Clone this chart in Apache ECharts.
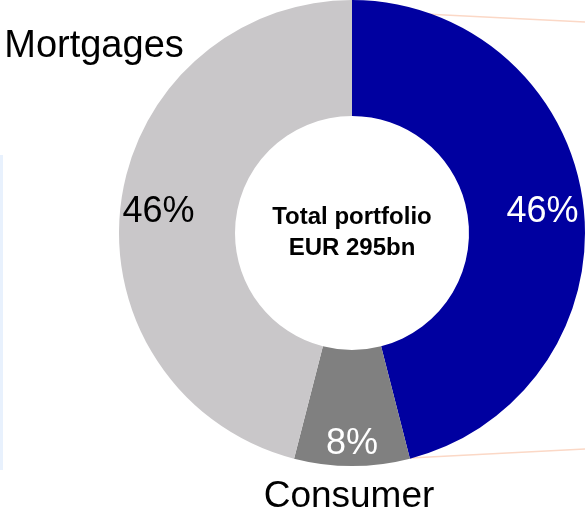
<!DOCTYPE html>
<html>
<head>
    <meta charset="UTF-8">
    <title>Portfolio</title>
    <style>
        html, body { margin: 0; padding: 0; background: #fff; }
        #chart { width: 585px; height: 515px; }
    </style>
    <script src="https://cdn.jsdelivr.net/npm/echarts@6/dist/echarts.min.js"></script>
</head>
<body>
    <div id="chart"></div>
    <script type="text/javascript">
        // data
        var categories = ['Other', 'Consumer', 'Mortgages'];
        var shares = [46, 8, 46];
        var colors = ['#0000a0', '#808080', '#c9c7c9'];
        var labelColors = ['#ffffff', '#ffffff', '#000000'];
        var centerLines = ['Total portfolio', 'EUR 295bn'];

        var font = '"Liberation Sans", Arial, sans-serif';

        // nudge of the percentage labels (pixels)
        var labelShift = [[14, 1], [0, 33], [-17, 1]];

        var myChart = echarts.init(document.getElementById('chart'));

        var pieData = categories.map(function (c, i) {
            return {
                name: c,
                value: shares[i],
                itemStyle: { color: colors[i] },
                label: { color: labelColors[i] }
            };
        });

        var option = {
            animation: false,
            backgroundColor: '#ffffff',
            graphic: [
                // faint blue strip on the left
                {
                    type: 'line',
                    shape: { x1: 1.5, y1: 155, x2: 1.5, y2: 470 },
                    style: { stroke: '#e8f1fd', lineWidth: 3 }
                },
                // connector lines to the right
                {
                    type: 'line',
                    shape: { x1: 425, y1: 14, x2: 585, y2: 22 },
                    style: { stroke: '#fbd8c6', lineWidth: 1.5 }
                },
                {
                    type: 'line',
                    shape: { x1: 410, y1: 458, x2: 585, y2: 449 },
                    style: { stroke: '#fbd8c6', lineWidth: 1.5 }
                },
                {
                    type: 'text',
                    x: 94, y: 47,
                    style: {
                        text: categories[2],
                        font: '38px ' + font,
                        fill: '#000',
                        align: 'center',
                        verticalAlign: 'middle'
                    }
                },
                {
                    type: 'text',
                    x: 349, y: 497,
                    style: {
                        text: categories[1],
                        font: '37px ' + font,
                        fill: '#000',
                        align: 'center',
                        verticalAlign: 'middle'
                    }
                },
                {
                    type: 'text',
                    x: 352, y: 233,
                    z: 10,
                    style: {
                        text: centerLines.join('\n'),
                        font: 'bold 24px ' + font,
                        lineHeight: 31,
                        fill: '#000',
                        align: 'center',
                        verticalAlign: 'middle'
                    }
                }
            ],
            series: [{
                type: 'pie',
                center: [352, 233],
                radius: [117, 233],
                startAngle: 90,
                clockwise: true,
                silent: true,
                label: {
                    show: true,
                    position: 'inside',
                    formatter: '{c}%',
                    fontFamily: font,
                    fontSize: 36
                },
                labelLine: { show: false },
                labelLayout: function (p) {
                    var s = labelShift[p.dataIndex];
                    return { dx: s[0], dy: s[1] };
                },
                itemStyle: { borderWidth: 0 },
                data: pieData
            }]
        };

        myChart.setOption(option);
    </script>
</body>
</html>
